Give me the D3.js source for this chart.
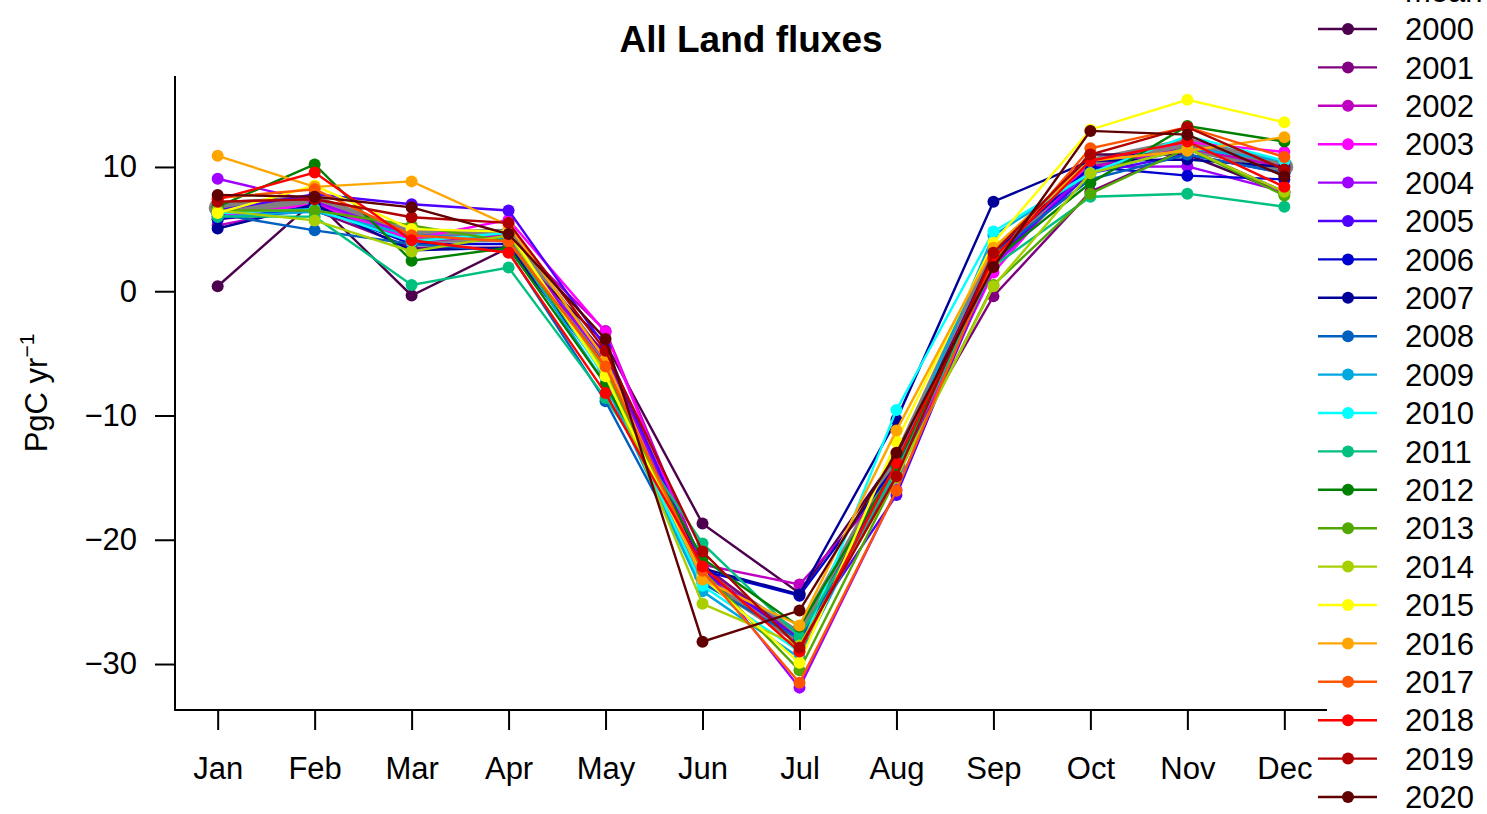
<!DOCTYPE html>
<html>
<head>
<meta charset="utf-8">
<script src="https://cdn.jsdelivr.net/npm/d3@7"></script>
<style>
body { margin: 0; background: #fff; }
svg { font-family: "Liberation Sans", Arial, Helvetica, sans-serif; }
</style>
</head>
<body>
<svg id="chart" width="1487" height="814"></svg>
<script>
var months = ["Jan", "Feb", "Mar", "Apr", "May", "Jun", "Jul", "Aug", "Sep", "Oct", "Nov", "Dec"];
var yTicks = [10, 0, -10, -20, -30];

var years = ["2000", "2001", "2002", "2003", "2004", "2005", "2006", "2007", "2008", "2009", "2010",
	"2011", "2012", "2013", "2014", "2015", "2016", "2017", "2018", "2019", "2020"];

var colors = ["#4d004d", "#800080", "#c000c0", "#ff00ff", "#a000ff", "#5000ff", "#0000d0", "#000099",
	"#0060c0", "#00a8e0", "#00ffff", "#00c080", "#008000", "#50a800", "#a8d000", "#ffff00",
	"#ffa500", "#ff5500", "#ff0000", "#b00000", "#600000"];

var meanValues = [6.7, 7.2, 4.4, 4.5, -6.0, -22.8, -27.9, -14.0, 2.8, 10.2, 11.8, 10.0];

var values = [
	[0.4, 7.3, -0.34, 3.5, -4.2, -18.7, -24.3, -13.2, 2.5, 11.0, 11.0, 7.9],
	[5.8, 6.5, 3.5, 3.5, -5.0, -22.0, -28.0, -14.0, -0.4, 8.0, 11.5, 8.0],
	[5.3, 6.8, 4.0, 4.5, -3.2, -22.0, -23.6, -15.0, 2.0, 10.0, 11.5, 10.0],
	[6.0, 7.0, 4.2, 5.75, -3.3, -22.5, -28.0, -14.5, 1.5, 10.5, 12.0, 11.2],
	[9.05, 7.2, 4.5, 4.2, -5.5, -22.0, -31.9, -16.0, 2.0, 10.0, 10.05, 8.0],
	[6.5, 7.8, 7.0, 6.5, -4.5, -22.5, -28.0, -16.4, 2.5, 9.5, 11.0, 9.5],
	[5.8, 6.8, 3.8, 3.8, -6.0, -22.5, -24.5, -14.0, 3.0, 10.0, 9.3, 9.0],
	[5.05, 7.0, 3.3, 3.5, -6.5, -22.3, -24.4, -10.35, 7.2, 10.5, 10.6, 10.0],
	[6.2, 4.9, 3.8, 3.2, -8.85, -23.5, -28.0, -15.0, 3.0, 9.0, 11.0, 9.5],
	[6.0, 6.4, 4.5, 4.2, -7.5, -24.15, -29.5, -14.0, 4.5, 9.5, 11.5, 10.5],
	[6.3, 6.6, 4.0, 4.7, -7.0, -23.7, -29.0, -9.55, 4.8, 9.5, 12.5, 10.5],
	[6.0, 6.0, 0.5, 1.9, -8.6, -20.3, -27.8, -14.5, 2.0, 7.6, 7.85, 6.8],
	[6.8, 10.2, 2.45, 3.5, -7.5, -21.5, -27.0, -14.0, 2.5, 8.7, 13.3, 12.05],
	[6.5, 6.5, 5.3, 4.0, -6.5, -22.5, -30.5, -15.0, 0.5, 7.85, 11.5, 7.7],
	[6.5, 5.7, 3.2, 4.5, -6.5, -25.15, -28.5, -15.0, 0.4, 9.5, 11.5, 8.0],
	[6.3, 8.5, 5.0, 4.8, -6.85, -23.0, -29.9, -12.1, 3.9, 13.0, 15.4, 13.6],
	[10.9, 8.4, 8.84, 5.3, -5.5, -23.2, -26.9, -11.2, 3.5, 10.5, 11.3, 12.4],
	[7.5, 8.2, 4.5, 4.0, -6.05, -22.5, -31.5, -16.05, 2.5, 11.5, 13.2, 10.8],
	[7.4, 9.55, 4.1, 3.1, -8.2, -22.15, -29.0, -13.8, 2.7, 10.5, 12.05, 8.4],
	[7.2, 7.4, 5.95, 5.5, -4.8, -20.95, -28.7, -14.9, 3.1, 11.0, 13.2, 9.8],
	[7.75, 7.6, 6.75, 4.6, -3.85, -28.2, -25.7, -13.0, 1.95, 12.9, 12.6, 9.25]
];

var svg = d3.select("#chart");
var margin = { top: 76, right: 160, bottom: 104, left: 175 };
var width = 1487, height = 814;
var chart_width = width - (margin.left + margin.right);
var chart_height = height - (margin.top + margin.bottom);

// R style 4% padding on both axes
var xScale = d3.scaleLinear().domain([0.56, 12.44]).range([0, chart_width]);
var yScale = d3.scaleLinear().domain([-33.7, 17.32]).range([chart_height, 0]);

var g = svg.append("g").attr("transform", "translate(" + margin.left + "," + margin.top + ")");

// L shaped box
g.append("path")
	.attr("d", "M0,0L0," + chart_height + "L" + chart_width + "," + chart_height)
	.attr("fill", "none")
	.attr("stroke", "black")
	.attr("stroke-width", 2);

var xAxis = d3.axisBottom(xScale)
	.tickValues(d3.range(1, 13))
	.tickFormat(function(d) { return months[d - 1]; })
	.tickSize(20)
	.tickPadding(27);

var yAxis = d3.axisLeft(yScale)
	.tickValues(yTicks)
	.tickFormat(function(d) { return d < 0 ? "\u2212" + Math.abs(d) : d; })
	.tickSize(20)
	.tickPadding(18);

var gx = g.append("g")
	.attr("transform", "translate(0," + chart_height + ")")
	.call(xAxis);
var gy = g.append("g").call(yAxis);

[gx, gy].forEach(function(a) {
	a.select(".domain").remove();
	a.selectAll(".tick line").attr("stroke", "black").attr("stroke-width", 2);
	a.selectAll(".tick text")
		.attr("fill", "black")
		.style("font-size", "31px")
		.style("font-family", "'Liberation Sans', Arial, sans-serif");
});
gx.selectAll(".tick text").attr("dy", "0.71em");

var line = d3.line()
	.x(function(d, i) { return xScale(i + 1); })
	.y(function(d) { return yScale(d); });

// mean underneath the years
g.append("path")
	.attr("d", line(meanValues))
	.attr("fill", "none")
	.attr("stroke", "#808080")
	.attr("stroke-width", 13)
	.attr("stroke-linejoin", "round");
g.selectAll(".mean_dot")
	.data(meanValues)
	.enter().append("circle")
	.attr("cx", function(d, i) { return xScale(i + 1); })
	.attr("cy", function(d) { return yScale(d); })
	.attr("r", 9)
	.attr("fill", "#808080");

values.forEach(function(series, k) {
	var gy2 = g.append("g").attr("class", "year");
	gy2.append("path")
		.attr("d", line(series))
		.attr("fill", "none")
		.attr("stroke", colors[k])
		.attr("stroke-width", 2.4);
	gy2.selectAll("circle")
		.data(series)
		.enter().append("circle")
		.attr("cx", function(d, i) { return xScale(i + 1); })
		.attr("cy", function(d) { return yScale(d); })
		.attr("r", 6)
		.attr("fill", colors[k]);
});

// title
svg.append("text")
	.attr("x", margin.left + chart_width / 2)
	.attr("y", 52)
	.attr("text-anchor", "middle")
	.style("font-size", "37px")
	.style("font-weight", "bold")
	.text("All Land fluxes");

// y label
var ylab = svg.append("text")
	.attr("transform", "translate(47," + 393 + ") rotate(-90)")
	.attr("text-anchor", "middle")
	.style("font-size", "31px");
ylab.append("tspan").text("PgC yr");
ylab.append("tspan")
	.attr("dy", "-0.6em")
	.style("font-size", "21px")
	.text("\u22121");

// legend
var legendNames = ["mean"].concat(years);
var legendColors = ["#808080"].concat(colors);
var legend = svg.append("g");
var legendY = d3.scaleLinear().domain([0, 21]).range([-9.4, 797]);

legendNames.forEach(function(name, i) {
	var y = legendY(i);
	legend.append("line")
		.attr("x1", 1318).attr("x2", 1377)
		.attr("y1", y).attr("y2", y)
		.attr("stroke", legendColors[i])
		.attr("stroke-width", i == 0 ? 13 : 2.4);
	legend.append("circle")
		.attr("cx", 1348).attr("cy", y)
		.attr("r", i == 0 ? 9 : 6)
		.attr("fill", legendColors[i]);
	legend.append("text")
		.attr("x", 1405)
		.attr("y", y)
		.attr("dy", "0.36em")
		.style("font-size", "31px")
		.text(name);
});
</script>
</body>
</html>
